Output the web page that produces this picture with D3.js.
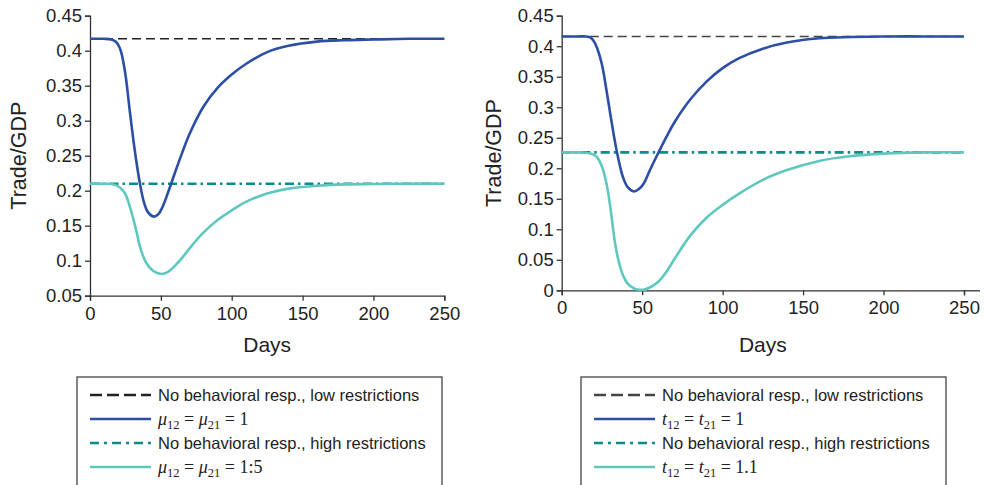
<!DOCTYPE html>
<html>
<head>
<meta charset="utf-8">
<script src="https://cdn.jsdelivr.net/npm/d3@7"></script>
<style>
  html, body { margin: 0; padding: 0; background: #fff; }
  svg { display: block; font-family: "Liberation Sans", Arial, Helvetica, sans-serif; }
</style>
</head>
<body>
<svg id="chart" width="984" height="485"></svg>
<script>
// ---------- data ----------
const days = [0, 10, 15, 18, 20, 22, 25, 28, 30, 33, 35, 38, 41, 45, 48, 51, 55, 60, 65, 70, 80, 90, 100, 110, 125, 140, 160, 180, 200, 225, 250];

const leftBlue  = [0.417, 0.417, 0.416, 0.413, 0.408, 0.398, 0.366, 0.315, 0.282, 0.238, 0.213, 0.184, 0.169, 0.163, 0.166, 0.176, 0.197, 0.226, 0.254, 0.280, 0.320, 0.347, 0.366, 0.381, 0.398, 0.407, 0.413, 0.415, 0.416, 0.417, 0.417];
const leftTeal  = [0.210, 0.210, 0.2095, 0.208, 0.206, 0.203, 0.195, 0.178, 0.164, 0.140, 0.122, 0.104, 0.093, 0.085, 0.082, 0.081, 0.084, 0.093, 0.104, 0.117, 0.140, 0.158, 0.172, 0.184, 0.196, 0.203, 0.207, 0.209, 0.2095, 0.210, 0.210];
const rightBlue = [0.416, 0.416, 0.416, 0.414, 0.408, 0.397, 0.370, 0.325, 0.292, 0.245, 0.218, 0.186, 0.169, 0.162, 0.166, 0.175, 0.198, 0.225, 0.251, 0.275, 0.313, 0.342, 0.364, 0.380, 0.396, 0.406, 0.413, 0.415, 0.416, 0.416, 0.416];
const rightTeal = [0.226, 0.226, 0.2255, 0.224, 0.222, 0.218, 0.203, 0.173, 0.140, 0.080, 0.052, 0.025, 0.011, 0.003, 0.001, 0.001, 0.005, 0.014, 0.030, 0.051, 0.090, 0.119, 0.140, 0.158, 0.181, 0.197, 0.212, 0.220, 0.224, 0.226, 0.226];

const leftLow = 0.417, leftHigh = 0.210;
const rightLow = 0.416, rightHigh = 0.226;

const xTicks = [0, 50, 100, 150, 200, 250];
const leftYTicks  = [0.05, 0.1, 0.15, 0.2, 0.25, 0.3, 0.35, 0.4, 0.45];
const rightYTicks = [0, 0.05, 0.1, 0.15, 0.2, 0.25, 0.3, 0.35, 0.4, 0.45];

const leftMathLabel1  = ["μ", "12", "μ", "21", "1"];
const leftMathLabel2  = ["μ", "12", "μ", "21", "1:5"];
const rightMathLabel1 = ["t", "12", "t", "21", "1"];
const rightMathLabel2 = ["t", "12", "t", "21", "1.1"];
const textLow  = "No behavioral resp., low restrictions";
const textHigh = "No behavioral resp., high restrictions";

// ---------- style ----------
const C = {
  blue: "#2c4ea5",
  teal: "#5ec8bf",
  dashdot: "#0b8b8c",
  dash: "#222",
  axis: "#333",
  text: "#222"
};

const svg = d3.select("#chart");

function panel(cfg) {
  const x = d3.scaleLinear().domain([0, 250]).range([cfg.x0, cfg.x1]);
  const y = d3.scaleLinear().domain(cfg.yDomain).range([cfg.yBot, cfg.yTop]);
  const g = svg.append("g");

  // axes
  const yAxis = d3.axisLeft(y).tickValues(cfg.yTicks).tickSize(5).tickPadding(3).tickFormat(d => String(d));
  const xAxis = d3.axisBottom(x).tickValues(xTicks).tickSize(5).tickPadding(6).tickFormat(d => String(d));
  const ya = g.append("g").attr("transform", `translate(${cfg.x0},0)`).call(yAxis);
  const xa = g.append("g").attr("transform", `translate(0,${cfg.yBot})`).call(xAxis);
  [ya, xa].forEach(a => {
    a.select(".domain").attr("stroke", C.axis).attr("stroke-width", 1.3);
    a.selectAll(".tick line").attr("stroke", C.axis).attr("stroke-width", 1.3);
    a.selectAll(".tick text").attr("fill", C.text).style("font-size", "18.5px")
      .style("font-family", '"Liberation Sans", Arial, sans-serif');
  });
  if (cfg.xExtend) {
    xa.append("line").attr("x1", cfg.x1).attr("x2", cfg.xExtend).attr("y1", 0.5).attr("y2", 0.5)
      .attr("stroke", C.axis).attr("stroke-width", 1.3);
  }

  // reference lines
  g.append("line").attr("x1", x(0)).attr("x2", x(250)).attr("y1", y(cfg.low)).attr("y2", y(cfg.low))
    .attr("stroke", cfg.dashColor).attr("stroke-width", 1.4).attr("stroke-dasharray", "9,5");
  g.append("line").attr("x1", x(0)).attr("x2", x(250)).attr("y1", y(cfg.high)).attr("y2", y(cfg.high))
    .attr("stroke", C.dashdot).attr("stroke-width", 2.6).attr("stroke-dasharray", "9,4,2.5,4");

  const line = d3.line().x((d, i) => x(days[i])).y(d => y(d)).curve(d3.curveCatmullRom.alpha(0.5));
  g.append("path").datum(cfg.teal).attr("d", line).attr("fill", "none")
    .attr("stroke", C.teal).attr("stroke-width", 2.6);
  g.append("path").datum(cfg.blue).attr("d", line).attr("fill", "none")
    .attr("stroke", C.blue).attr("stroke-width", 2.6);

  // axis titles
  g.append("text").attr("x", (cfg.x0 + cfg.x1) / 2).attr("y", 352).attr("text-anchor", "middle")
    .attr("fill", C.text).style("font-size", "21px").text("Days");
  g.append("text").attr("transform", `translate(${cfg.titleX},${(cfg.yTop + cfg.yBot) / 2}) rotate(-90)`)
    .attr("text-anchor", "middle").attr("fill", C.text).style("font-size", "21.5px").text("Trade/GDP");

  // legend
  const L = cfg.legend;
  g.append("rect").attr("x", L.x).attr("y", 377).attr("width", L.w).attr("height", 120)
    .attr("fill", "none").attr("stroke", "#444").attr("stroke-width", 1.3);
  const rows = [395, 419, 443, 467];
  const sx0 = L.x + 13, sx1 = L.x + 74, tx = L.x + 81;
  const samples = [
    {stroke: cfg.dashColor, w: 2.4, dash: "12,5"},
    {stroke: C.blue, w: 2.6, dash: null},
    {stroke: C.dashdot, w: 2.6, dash: "9,5,3,5"},
    {stroke: C.teal, w: 2.6, dash: null}
  ];
  samples.forEach((s, i) => {
    g.append("line").attr("x1", sx0).attr("x2", sx1).attr("y1", rows[i]).attr("y2", rows[i])
      .attr("stroke", s.stroke).attr("stroke-width", s.w).attr("stroke-dasharray", s.dash);
  });
  g.append("text").attr("x", tx).attr("y", rows[0] + 6).attr("fill", C.text).style("font-size", "16.5px").text(textLow);
  g.append("text").attr("x", tx).attr("y", rows[2] + 6).attr("fill", C.text).style("font-size", "16.5px").text(textHigh);
  [cfg.math1, cfg.math2].forEach((m, k) => {
    const t = g.append("text").attr("x", tx).attr("y", rows[k * 2 + 1] + 6).attr("fill", C.text)
      .style("font-family", '"Liberation Serif", "Times New Roman", serif').style("font-size", "18px")
      .attr("xml:space", "preserve");
    t.append("tspan").style("font-style", "italic").text(m[0]);
    t.append("tspan").attr("dy", 4).style("font-size", "12.5px").text(m[1]);
    t.append("tspan").attr("dy", -4).text("\u00a0=\u00a0");
    t.append("tspan").style("font-style", "italic").text(m[2]);
    t.append("tspan").attr("dy", 4).style("font-size", "12.5px").text(m[3]);
    t.append("tspan").attr("dy", -4).text("\u00a0=\u00a0" + m[4]);
  });
}

panel({
  x0: 90, x1: 444.3, yTop: 15.7, yBot: 295.7, yDomain: [0.05, 0.45], yTicks: leftYTicks,
  low: leftLow, high: leftHigh, blue: leftBlue, teal: leftTeal, dashColor: C.dash,
  titleX: 26, legend: {x: 77, w: 365}, math1: leftMathLabel1, math2: leftMathLabel2
});
panel({
  x0: 561.7, x1: 964, yTop: 15.7, yBot: 290.3, yDomain: [0, 0.45], yTicks: rightYTicks,
  low: rightLow, high: rightHigh, blue: rightBlue, teal: rightTeal, dashColor: "#444",
  titleX: 501, xExtend: 980, legend: {x: 581, w: 365}, math1: rightMathLabel1, math2: rightMathLabel2
});
</script>
</body>
</html>
